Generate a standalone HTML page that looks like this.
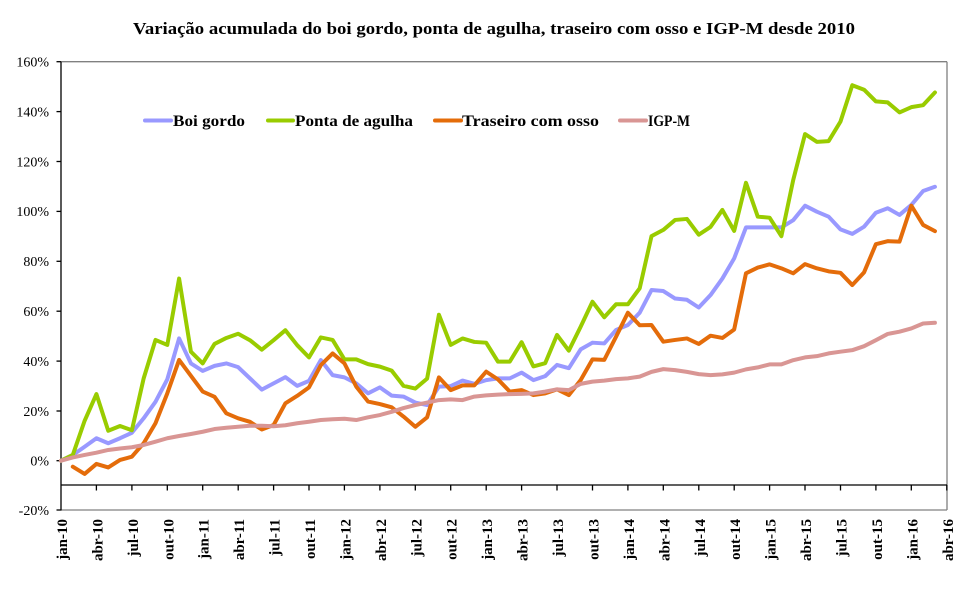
<!DOCTYPE html>
<html>
<head>
<meta charset="utf-8">
<style>
  html,body{margin:0;padding:0;background:#fff;}
  svg{display:block;}
  .yl{font-family:"Liberation Serif",serif;font-size:14px;fill:#000;}
  .xl{font-family:"Liberation Serif",serif;font-size:15px;font-weight:bold;fill:#000;}
  .lg{font-family:"Liberation Serif",serif;font-size:16px;font-weight:bold;fill:#000;}
</style>
</head>
<body>
<svg width="960" height="593" viewBox="0 0 960 593" xmlns="http://www.w3.org/2000/svg">
  <rect width="960" height="593" fill="#fff"/>
  <!-- Title -->
  <text x="133" y="34" font-family="Liberation Serif, serif" font-size="17" font-weight="bold" textLength="722" lengthAdjust="spacingAndGlyphs">Variação acumulada do boi gordo, ponta de agulha, traseiro com osso e IGP-M desde 2010</text>

  <!-- plot border -->
  <line x1="61" y1="61.7" x2="947" y2="61.7" stroke="#808080" stroke-width="1.3"/>
  <line x1="947" y1="61.7" x2="947" y2="510" stroke="#808080" stroke-width="1.3"/>
  <line x1="61" y1="510" x2="947" y2="510" stroke="#808080" stroke-width="1.3"/>

  <!-- y axis -->
  <line x1="61" y1="61.7" x2="61" y2="510.5" stroke="#000" stroke-width="1.3"/>
  <g stroke="#000" stroke-width="1.3">
    <line x1="56.5" y1="61.7" x2="61" y2="61.7"/>
    <line x1="56.5" y1="111.6" x2="61" y2="111.6"/>
    <line x1="56.5" y1="161.5" x2="61" y2="161.5"/>
    <line x1="56.5" y1="211.4" x2="61" y2="211.4"/>
    <line x1="56.5" y1="261.3" x2="61" y2="261.3"/>
    <line x1="56.5" y1="311.2" x2="61" y2="311.2"/>
    <line x1="56.5" y1="361.1" x2="61" y2="361.1"/>
    <line x1="56.5" y1="411.0" x2="61" y2="411.0"/>
    <line x1="56.5" y1="460.7" x2="61" y2="460.7"/>
    <line x1="56.5" y1="510" x2="61" y2="510"/>
  </g>
  <g class="yl" text-anchor="end">
    <text x="49" y="66.5">160%</text>
    <text x="49" y="116.4">140%</text>
    <text x="49" y="166.3">120%</text>
    <text x="49" y="216.2">100%</text>
    <text x="49" y="266.1">80%</text>
    <text x="49" y="316">60%</text>
    <text x="49" y="365.9">40%</text>
    <text x="49" y="415.8">20%</text>
    <text x="49" y="465.5">0%</text>
    <text x="49" y="514.8">-20%</text>
  </g>

  <!-- x axis -->
  <line x1="61" y1="485" x2="947" y2="485" stroke="#000" stroke-width="1.3"/>
  <g stroke="#000" stroke-width="1.3">
    <line x1="96.4" y1="485" x2="96.4" y2="490.5"/>
    <line x1="131.9" y1="485" x2="131.9" y2="490.5"/>
    <line x1="167.3" y1="485" x2="167.3" y2="490.5"/>
    <line x1="202.7" y1="485" x2="202.7" y2="490.5"/>
    <line x1="238.2" y1="485" x2="238.2" y2="490.5"/>
    <line x1="273.6" y1="485" x2="273.6" y2="490.5"/>
    <line x1="309.0" y1="485" x2="309.0" y2="490.5"/>
    <line x1="344.4" y1="485" x2="344.4" y2="490.5"/>
    <line x1="379.9" y1="485" x2="379.9" y2="490.5"/>
    <line x1="415.3" y1="485" x2="415.3" y2="490.5"/>
    <line x1="450.7" y1="485" x2="450.7" y2="490.5"/>
    <line x1="486.2" y1="485" x2="486.2" y2="490.5"/>
    <line x1="521.6" y1="485" x2="521.6" y2="490.5"/>
    <line x1="557.0" y1="485" x2="557.0" y2="490.5"/>
    <line x1="592.5" y1="485" x2="592.5" y2="490.5"/>
    <line x1="627.9" y1="485" x2="627.9" y2="490.5"/>
    <line x1="663.3" y1="485" x2="663.3" y2="490.5"/>
    <line x1="698.8" y1="485" x2="698.8" y2="490.5"/>
    <line x1="734.2" y1="485" x2="734.2" y2="490.5"/>
    <line x1="769.6" y1="485" x2="769.6" y2="490.5"/>
    <line x1="805.0" y1="485" x2="805.0" y2="490.5"/>
    <line x1="840.5" y1="485" x2="840.5" y2="490.5"/>
    <line x1="875.9" y1="485" x2="875.9" y2="490.5"/>
    <line x1="911.3" y1="485" x2="911.3" y2="490.5"/>
    <line x1="946.8" y1="485" x2="946.8" y2="490.5"/>
  </g>
  <g class="xl" text-anchor="end">
    <text transform="translate(67,519) rotate(-90)">jan-10</text>
    <text transform="translate(102.4,519) rotate(-90)">abr-10</text>
    <text transform="translate(137.9,519) rotate(-90)">jul-10</text>
    <text transform="translate(173.3,519) rotate(-90)">out-10</text>
    <text transform="translate(208.7,519) rotate(-90)">jan-11</text>
    <text transform="translate(244.2,519) rotate(-90)">abr-11</text>
    <text transform="translate(279.6,519) rotate(-90)">jul-11</text>
    <text transform="translate(315.0,519) rotate(-90)">out-11</text>
    <text transform="translate(350.4,519) rotate(-90)">jan-12</text>
    <text transform="translate(385.9,519) rotate(-90)">abr-12</text>
    <text transform="translate(421.3,519) rotate(-90)">jul-12</text>
    <text transform="translate(456.7,519) rotate(-90)">out-12</text>
    <text transform="translate(492.2,519) rotate(-90)">jan-13</text>
    <text transform="translate(527.6,519) rotate(-90)">abr-13</text>
    <text transform="translate(563.0,519) rotate(-90)">jul-13</text>
    <text transform="translate(598.5,519) rotate(-90)">out-13</text>
    <text transform="translate(633.9,519) rotate(-90)">jan-14</text>
    <text transform="translate(669.3,519) rotate(-90)">abr-14</text>
    <text transform="translate(704.8,519) rotate(-90)">jul-14</text>
    <text transform="translate(740.2,519) rotate(-90)">out-14</text>
    <text transform="translate(775.6,519) rotate(-90)">jan-15</text>
    <text transform="translate(811.0,519) rotate(-90)">abr-15</text>
    <text transform="translate(846.5,519) rotate(-90)">jul-15</text>
    <text transform="translate(881.9,519) rotate(-90)">out-15</text>
    <text transform="translate(917.3,519) rotate(-90)">jan-16</text>
    <text transform="translate(952.8,519) rotate(-90)">abr-16</text>
  </g>

  <!-- series (data coords: x = month index, y = percent) -->
  <g transform="translate(61,460.7) scale(11.81,-2.495)" fill="none" stroke-linejoin="round" stroke-linecap="round">
    <polyline vector-effect="non-scaling-stroke" stroke="#9999FF" stroke-width="4" points="0,0 1,2.3 2,5.6 3,9 4,7 5,9 6,11.2 7,17 8,23.6 9,32.6 10,49 11,39 12,36 13,38 14,39 15,37.5 16,33 17,28.5 18,31 19,33.5 20,30 21,32 22,40.3 23,34.3 24,33.4 25,31 26,27 27,29.4 28,26.1 29,25.7 30,23.3 31,22.3 32,29.7 33,29.9 34,32.1 35,30.8 36,32.3 37,33 38,33 39,35.3 40,32.3 41,33.9 42,38.4 43,37.1 44,44.6 45,47.3 46,47 47,52.4 48,54.4 49,59.3 50,68.4 51,68 52,65 53,64.5 54,61.4 55,66.4 56,73 57,81.1 58,93.5 59,93.5 60,93.5 61,93.5 62,96.4 63,102.2 64,99.8 65,97.8 66,92.7 67,90.9 68,93.8 69,99.4 70,101.2 71,98.5 72,102.5 73,108.1 74,109.8"/>
    <polyline vector-effect="non-scaling-stroke" stroke="#99CC00" stroke-width="4" points="0,0 1,2.3 2,16 3,26.7 4,12 5,13.9 6,12.2 7,33 8,48.4 9,46.4 10,73 11,43.7 12,39 13,46.8 14,49.2 15,50.9 16,48.3 17,44.5 18,48.3 19,52.3 20,46.3 21,41.4 22,49.4 23,48.4 24,40.6 25,40.6 26,38.7 27,37.7 28,36.1 29,30 30,28.9 31,32.9 32,58.5 33,46.4 34,49 35,47.6 36,47.3 37,39.7 38,39.7 39,47.5 40,37.8 41,39.1 42,50.4 43,44.1 44,53.7 45,63.7 46,57.5 47,62.7 48,62.7 49,69.1 50,90 51,92.5 52,96.5 53,96.9 54,90.6 55,93.7 56,100.5 57,92.1 58,111.4 59,97.8 60,97.4 61,90 62,112.5 63,130.9 64,127.8 65,128.1 66,135.9 67,150.5 68,148.7 69,144 70,143.6 71,139.6 72,141.7 73,142.5 74,147.6"/>
    <polyline vector-effect="non-scaling-stroke" stroke="#E46C0A" stroke-width="4" points="1,-2.4 2,-5.3 3,-1.3 4,-2.7 5,0.3 6,1.6 7,7 8,15 9,27 10,40.4 11,34 12,27.7 13,25.6 14,19 15,17 16,15.6 17,12.5 18,14.3 19,23 20,26 21,29.4 22,38.3 23,43 24,39 25,29.7 26,23.7 27,22.7 28,21.4 29,17.7 30,13.6 31,17.4 32,33.4 33,28.3 34,30.2 35,30.2 36,35.7 37,32.6 38,27.7 39,28.3 40,26.3 41,27 42,28.6 43,26.3 44,32.3 45,40.6 46,40.4 47,49.7 48,59.3 49,54.3 50,54.4 51,47.7 52,48.4 53,49 54,46.8 55,50.1 56,49.2 57,52.6 58,75.1 59,77.4 60,78.7 61,77.1 62,75.1 63,78.8 64,77.1 65,75.9 66,75.3 67,70.4 68,75.5 69,86.8 70,88 71,87.8 72,102.2 73,94.5 74,92"/>
    <polyline vector-effect="non-scaling-stroke" stroke="#D99694" stroke-width="4" points="0,0 1,1.3 2,2.3 3,3.2 4,4.3 5,4.9 6,5.4 7,6.3 8,7.6 9,9 10,9.9 11,10.7 12,11.6 13,12.7 14,13.2 15,13.6 16,14 17,14 18,13.8 19,14.2 20,15 21,15.6 22,16.3 23,16.6 24,16.8 25,16.3 26,17.4 27,18.3 28,19.6 29,21.1 30,22.3 31,23.3 32,24.3 33,24.6 34,24.3 35,25.7 36,26.2 37,26.5 38,26.7 39,26.8 40,27 41,27.7 42,28.6 43,28.3 44,30.8 45,31.7 46,32.1 47,32.7 48,33 49,33.7 50,35.6 51,36.7 52,36.3 53,35.6 54,34.7 55,34.3 56,34.6 57,35.3 58,36.6 59,37.4 60,38.6 61,38.6 62,40.3 63,41.4 64,41.9 65,43 66,43.7 67,44.3 68,45.9 69,48.3 70,50.8 71,51.7 72,53 73,55 74,55.3"/>
  </g>

  <!-- legend -->
  <g stroke-width="4" stroke-linecap="round">
    <line x1="145" y1="120.5" x2="171" y2="120.5" stroke="#9999FF"/>
    <line x1="268" y1="120.5" x2="293" y2="120.5" stroke="#99CC00"/>
    <line x1="435" y1="120.5" x2="461" y2="120.5" stroke="#E46C0A"/>
    <line x1="620" y1="120.5" x2="646" y2="120.5" stroke="#D99694"/>
  </g>
  <g class="lg">
    <text x="173" y="126" textLength="72" lengthAdjust="spacingAndGlyphs">Boi gordo</text>
    <text x="295" y="126" textLength="118" lengthAdjust="spacingAndGlyphs">Ponta de agulha</text>
    <text x="462" y="126" textLength="137" lengthAdjust="spacingAndGlyphs">Traseiro com osso</text>
    <text x="648" y="126" textLength="42" lengthAdjust="spacingAndGlyphs">IGP-M</text>
  </g>
</svg>
</body>
</html>
